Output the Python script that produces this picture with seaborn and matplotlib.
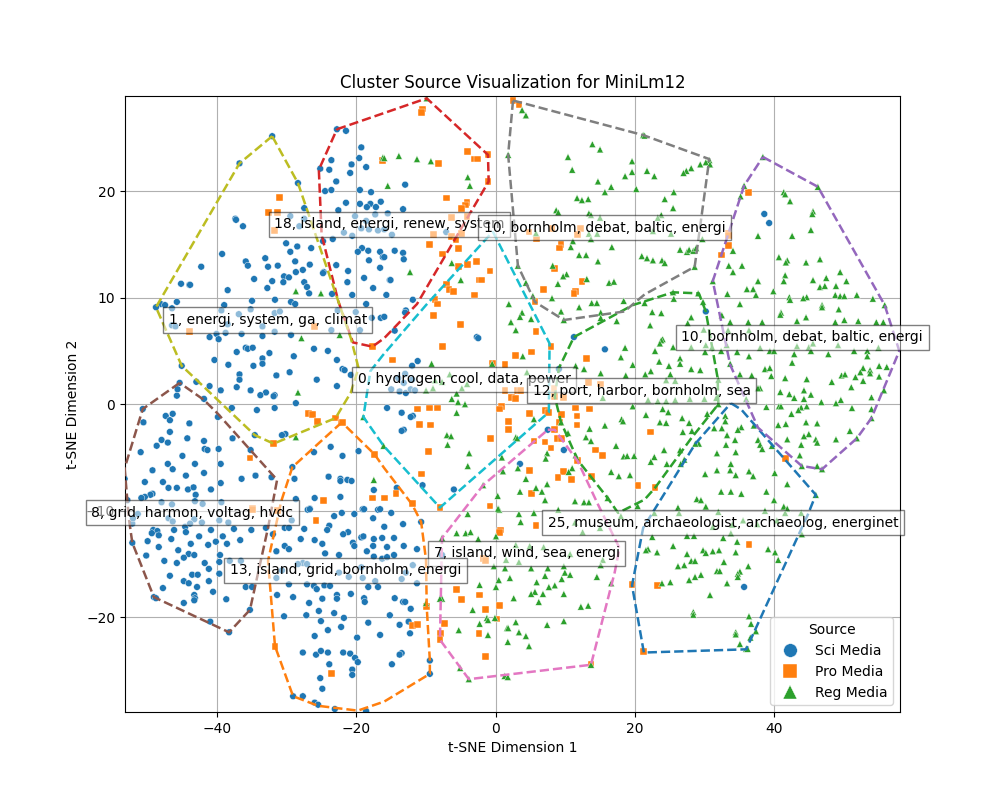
import pandas as pd
import seaborn as sns
import matplotlib.pyplot as plt

###### data (t-SNE dim 1, t-SNE dim 2) ######
sci_points = [
(-32.1,25.15),(-36.8,22.6),(-22.8,25.8),(-21.5,25.65),(-19.3,24.1),(-23.6,22.9),(-19.6,23.1),(-20.7,22.5),(-18.6,22.25),(-25.2,22.1),
(-23.9,22),(-20.9,21.7),(-22.9,20.9),(-28.4,20.75),(-24.5,20),(-23.6,20.1),(-19.5,20.1),(-17.9,19.9),(-21.5,18.9),(-19.5,18.8),
(-18,18.8),(-18.5,18.5),(-17.2,18.5),(-16.5,19),(-27.5,18.4),(-22.6,18.2),(-37.4,17.4),(-37.3,17.3),(-36.3,16.7),(-29.5,17.65),
(-28.2,16.7),(-27.5,17.4),(-20.2,17.65),(-17.3,17.8),(-21.8,16.1),(-20.6,15.8),(-19.3,16.5),(-18.2,16.4),(-16.9,16.3),(-16,16.4),
(-18.6,17.2),(-23.4,15.5),(-24.8,15.3),(-30.1,15.1),(-28.5,14.8),(-26.5,14.65),(-29.5,14.3),(-19.2,14.65),(-19.8,14.3),(-18.3,14.4),
(-16.6,14.3),(-16.2,13.8),(-39.3,14.1),(-33.1,13.7),(-35.9,13.4),(-35.6,13),(-28.8,13.4),(-18.2,13.5),(-31.3,13),(-32.7,12.9),
(-26.7,13.1),(-22.9,13.05),(-42.3,12.9),(-16.6,12.8),(-27.7,12.6),(-28.7,12.4),(-24.7,12.4),(-24.8,12.3),(-21.2,12.5),(-30.4,12),
(-29.7,11.9),(-34.7,11.75),(-32.1,11.55),(-30.5,11.45),(-27.5,11.45),(-21.3,11.45),(-18.9,11.85),(-45.2,11.3),(-44,11.2),(-43.9,11.2),
(-27.1,11),(-32.8,10.9),(-17.6,10.9),(-38.5,10.7),(-26.8,10.4),(-23.5,10.35),(-20.6,10.25),(-35,9.7),(-31.7,9.8),(-45.8,9.6),
(-29.4,9.6),(-28.8,9.4),(-18.6,9.4),(-39,9.3),(-48.1,9.4),(-47.5,9.3),(-13,20.6),(-13.3,18.3),(-15.5,17.9),(-7.1,16.15),
(-14.9,15.9),(-14.5,14.4),(-13.3,14.2),(-13.2,13.6),(-15.2,11.65),(-15.7,10.25),(-11.9,9.8),(-16,13.8),(-15.1,11.65),
(38.6,17.85),(39.3,17),(-48.8,9.1),(-46.5,9),(-36.9,8.45),(-35.2,8.9),(-31.75,8.55),(-31,8.7),(-33.5,7.3),(-46.5,7.4),
(-46,7.3),(-38.5,7.5),(-39.4,8.8),(-20.1,8.65),(-23.6,6.95),(-19.5,6.95),(-17.8,8.1),(-16.5,8.1),(-22.7,8.8),(-41.1,6.3),
(-40.1,6.6),(-39.8,6.1),(-38.8,6.7),(-36.5,6.6),(-33.5,6.4),(-31.75,6.8),(-29.4,6.5),(-26.1,5.2),(-24.1,5),(-35.9,5.3),
(-35.6,5.2),(-34.9,5.3),(-37.2,4.9),(-32.5,4.8),(-29,4.5),(-33.5,4.3),(-40.4,4.15),(-22.8,4.15),(-34.8,3.6),(-33.5,3.8),
(-38.4,3.7),(-45.1,3.6),(-22,3.3),(-21.7,3.2),(-29.6,3),(-36.8,2.8),(-31.5,2.7),(-20.8,2.75),(-36.8,2.3),(-25.7,2.3),
(-43,2.1),(-45.4,2),(-45.7,1.4),(-41.1,1.7),(-37.2,1.6),(-22.8,1.7),(-39.5,1.3),(-35.2,1.3),(-33,1.1),(-33.8,0.85),
(-31.75,0.85),(-31.9,0.75),(-45.8,0.8),(-41.9,0.5),(-28.7,0.1),(-37.9,-0.35),(-31.75,-0.35),(-34.3,-0.55),(-50.7,-0.45),(-46.4,-0.9),
(-47.4,-1.1),(-46.8,-1.5),(-39.9,-1.2),(-50.6,-1.7),(-44,-1.8),(-46.8,-2.6),(-34.6,-2.9),(-30.2,-2.8),(-30.7,-2.9),(-44.3,-3.2),
(-37.8,-3.2),(-48,-3.35),(-47.1,-3.6),(-48.7,-3.9),(-41.9,-3.45),(-41.8,-4.2),(-41.4,-4.3),(-39.8,-4.2),(-35.2,-4.3),(-51,-4.5),
(-45,-4.85),(-26.1,-4.5),(-23.7,-4),(-19.7,-4.4),(-22,-4.85),(-47.1,-5.6),(-43.2,-5.6),(-39.5,-5.6),(-29.2,-5.9),(-46.4,-6.1),
(-49.3,-6.2),(-41.9,-6.45),(-44.5,-6.7),(-34.5,-6.7),(-24,-6.8),(-32.2,-6.85),(-36.5,-7),(-28.9,-7),(-22.3,-7),(-22.3,-7.2),
(-21.3,-7.1),(-20.7,-7.2),(-50.4,-7.3),(-47.8,-7.3),(-39.5,-7.4),(-53.3,-7),(-47,-7.85),(-45.8,-7.85),(-44.2,-8),(-43.4,-7.8),
(-40.9,-8),(-17.5,-8.05),(-49.3,-8.4),(-49.6,-8.5),(-43.1,-8.5),(-50.4,-8.7),(-50.9,-8.8),(-28.7,-8.9),(-26,-8.8),(-22.3,-8.7),
(-19.1,-9.85),(-16.9,-9.9),(-26.7,-9.8),(-27,-9.9),(-48,-9.2),(-46.5,-9.4),(-43.2,-9.1),(-42.1,-9.35),(-39.4,-9.2),(-52.9,-9),
(-51.4,-10.3),(-12.9,8.8),(-13,8.6),(-14.5,6.9),(-16,8.2),(-2.7,6.3),(-2.5,6.2),(-11.2,4.05),(-12,3.6),(11.25,6.3),(15.7,5.15),
(-13,2.85),(-14,2.45),(-13.2,2),(-12,2.3),(-15,1.4),(-13.8,1.2),(-12.9,1.05),(-12.2,1.4),(-11.6,1.3),(9.1,3.3),
(-15.6,-0.35),(-13.5,-0.8),(-11.9,-1.1),(-12.2,-1.2),(-13.2,-2.4),(-13.5,-2.5),(7.5,-2.4),(9.8,-4.3),(3.5,-5.6),(-14.2,-7.85),
(-10.5,-7.6),(-6,-8),(30.2,8.7),(-52.2,-11.2),(-52.2,-13),(-49.2,-11.8),(-48.6,-11.9),(-49.4,-12.1),(-48.4,-12.3),(-46.2,-11.8),
(-44.6,-11.5),(-44.5,-12),(-50,-12.85),(-46.6,-12.65),(-42.6,-12.4),(-40.9,-11.8),(-39.2,-12.4),(-37.6,-11.7),(-35.1,-11.8),(-33,-11.6),
(-36.7,-12.75),(-40.2,-12.9),(-48.4,-13.4),(-43.8,-13.1),(-41.3,-13.2),(-38.6,-13.1),(-45.6,-13.7),(-50.2,-14.2),(-44.1,-14.05),(-43.3,-14.15),
(-44.8,-14.4),(-47.6,-14.7),(-45.8,-14.9),(-41.8,-14.9),(-39.6,-14.15),(-39.7,-14.8),(-41.2,-15.45),(-39.7,-15.9),(-46.8,-16.1),(-43.6,-16),
(-42.8,-16),(-44.8,-16.6),(-44.1,-16.8),(-41.2,-16.6),(-42.9,-17.15),(-47.8,-17.25),(-40.6,-17.6),(-43.3,-17.9),(-43.2,-18.2),(-43.3,-18.4),
(-49.1,-18.1),(-48.8,-18.2),(-44.8,-18.65),(-38.7,-18.3),(-35.3,-19.3),(-41,-20.4),(-38.3,-21.4),(-35.9,-17.15),(-35,-17.15),(-26.7,-9.85),
(-23.2,-10.5),(-22.1,-10.2),(-20.3,-10.3),(-18.9,-9.85),(-17.6,-10.7),(-16.6,-9.85),(-30.3,-11.6),(-29.7,-11.6),(-27.5,-11.7),(-23.9,-11.4),
(-24.2,-11.8),(-21.2,-12),(-21.9,-12.2),(-32,-12.2),(-19.3,-12.5),(-19,-12.4),(-17.5,-12.65),(-16.3,-12.55),(-28,-12.65),(-26,-12.75),
(-24.9,-13.1),(-20.5,-13),(-20.3,-13.3),(-17.6,-13.3),(-30.3,-13.3),(-29.7,-13.6),(-31.5,-13.8),(-18.5,-13.8),(-24.5,-14),(-22.5,-14.15),
(-17.5,-14.3),(-16.3,-14.5),(-27.7,-14.9),(-28.4,-15),(-27.1,-15),(-30.7,-15.6),(-19.3,-15.3),(-22.5,-15.8),(-21.1,-16.2),(-19.1,-16.3),
(-17.3,-16.6),(-31.5,-16.3),(-29.7,-16.9),(-27.1,-16.9),(-26.1,-17.05),(-25.7,-17.35),(-24.6,-17),(-23.8,-17.05),(-18.3,-17.15),(-16.9,-17.15),
(-31.4,-17.9),(-29.1,-18.1),(-22.8,-17.9),(-22.8,-18.25),(-20.8,-17.8),(-24.9,-18.25),(-18.9,-18.2),(-18.8,-18.55),(-26.8,-18.65),(-25.4,-19.4),
(-27.2,-19.8),(-23.2,-19.6),(-30.4,-19.9),(-21.8,-20.05),(-25.1,-20.35),(-18.3,-20.5),(-22.2,-20.9),(-24.1,-21.2),(-26,-21.75),(-16.6,-21.65),
(-19.9,-21.9),(-27.7,-23.3),(-25.8,-23.5),(-25.1,-23.15),(-24.1,-23.3),(-21.9,-23.3),(-20.9,-23.4),(-20.2,-23.8),(-19.8,-24.2),(-23.9,-24.4),
(-20.6,-24.9),(-20.6,-25.4),(-25.2,-25.7),(-24.9,-26.7),(-29.1,-27.4),(-27.7,-27.4),(-26,-28),(-25.5,-28.2),(-23.1,-28.6),(-18.6,-28.8),
(-47,-10.7),(-46.4,-11),(-43.3,-10.8),(-43.9,-11.2),(-42.2,-11.1),(-39.7,-10.9),(-38.4,-11.1),(-29.3,-10.9),(-52.1,-10.7),(-36.6,-14.7),
(-38.2,-14.7),(-15,-10.2),(-10.7,-11.05),(-13.3,-11.25),(-16,-11.5),(-14.6,-12.55),(-13.2,-13.3),(-11.3,-13.6),(-15.6,-13.4),(-14.6,-14.15),
(-15.6,-14.35),(-11.9,-15.1),(-12.9,-15.8),(-13.5,-16.4),(-11.3,-16.8),(-14.5,-18.2),(-13.3,-18.55),(-13,-18.55),(-12.2,-19.2),(-15.2,-19.8),
(-13.8,-20.7),(-12.5,-20.4),(-12.3,-21.5),(-13.5,-23.35),(-13.8,-23.5),(-14.9,-24.4),(-9.45,-24.05),(-9.45,-25.3),(-7.7,-14.15),(35.7,-17.15),
]
pro_points = [
(-31.1,19.4),(-32.6,18),(-31.3,18),(-31.8,16.3),(-16.3,22.9),(-10.5,27.7),(-10.6,27.4),(-4,23.75),(-3.1,23),(-2.55,23),
(-1.1,23.4),(-8.15,22.6),(-1.1,20.9),(-7,19.35),(-4.1,18.9),(-4.3,18.7),(-4.85,18.4),(-6.3,17.5),(-4.1,17.65),(-8.9,15.9),
(-4.85,16),(-6.3,15.7),(-5.7,15.4),(-9.45,15),(-5.3,14.6),(-7.6,14.1),(-2.7,13.4),(-4,13.1),(-5.3,12.9),(-0.8,12.5),
(-2.4,11.65),(-2,11.65),(-7,11.2),(-6.7,10.8),(-6,10.55),(-3,10.25),(-8.7,9.8),(-8.3,9.4),(2.5,28.5),(3.35,28.1),
(4.8,16.15),(5.9,15.5),(8.1,16.5),(12.25,16.5),(11.8,15.95),(9.4,15),(9.2,14.65),(8.5,12.7),(12.4,11.55),(6.9,10.8),
(11.5,10.6),(11.25,10.4),(5.65,9.6),(36.3,19.9),(33.4,16),(33.5,15.8),(33.5,14.9),(32.4,14),(-44,6.8),(-26,7.3),
(-17.7,5.4),(-26.9,-0.85),(-26.3,-1),(-25.6,-1.6),(-23,-1.3),(-22.1,-1.7),(-22,-1.75),(-31.9,-3.7),(-17.4,-4.7),(-35.3,-5.05),
(-24.7,-9),(-17.7,-8.8),(-34.9,-9.8),(-8.9,8.3),(-5,7.5),(5.8,6.85),(-7.6,5.4),(-14.8,4.15),(7.95,5.45),(5.2,4.9),
(2.8,4.6),(13,4.3),(-0.4,3.8),(1.35,3.7),(1.35,1.3),(3.1,1.3),(3.6,1.3),(2.3,0.6),(2.8,0.5),(8.5,0.7),
(9.8,0.6),(8.4,1.5),(13.4,2),(15.1,1.9),(0.9,-0.2),(0.5,-0.45),(-11.2,-0.45),(-9.45,-0.35),(-8.3,-0.35),(11.5,-0.35),
(13.5,-0.45),(4.9,-0.9),(7.1,-0.6),(7.65,-0.75),(9.5,-1),(11.7,-1.1),(1.9,-1.6),(-10.9,-1.9),(-9.3,-1.95),(11.7,-1.95),
(9.2,-1.7),(1.8,-2.4),(8.5,-2.4),(-0.7,-3.2),(8.9,-3.2),(9.5,-3.2),(5.5,-3.45),(7.1,-3.55),(7.95,-4.1),(-9.6,-4.4),
(14.4,-4.3),(15.3,-4.8),(11.8,-5.25),(4.9,-6.2),(9.8,-6.35),(13.8,-6.75),(8.95,-6.9),(10.95,-7.1),(-10.6,-6.55),(20.45,-7.6),
(-14.3,-8.4),(5.1,-8.4),(-12,-9.35),(-8,-9.7),(-0.8,-9.55),(-16,-8.8),(22.2,-2.6),(41.6,-5.1),(22.9,-7.85),(-34.9,-9.85),
(-31.3,-10),(-25.8,-10.9),(-31.7,-22.7),(-23.6,-25.3),(5.8,-11.35),(0.75,-11.8),(0.5,-12),(-1.8,-14.5),(-1.4,-14.7),(-5.6,-17.4),
(-2.3,-17.9),(-4.85,-18.3),(0.5,-18.85),(-9.9,-19),(-1.5,-19.3),(0.2,-20.15),(-7.4,-20.6),(-12,-20.8),(-11.2,-20.7),(-7.9,-21.5),
(-2.4,-21.5),(-8,-22.1),(-1.4,-23.7),(19.6,-16.95),(13.7,-24.4),(21.2,-23.2),(36.4,-13.2),(23.3,-17),
]
reg_points = [
(-28.7,10.6),(-25.1,10.4),(-16.2,23.15),(-9.9,28.7),(-13.9,23.3),(-11.3,23),(-9.3,22.8),(-16,23.1),(-4,21.3),(-3.7,20.5),
(-15.5,20.5),(-6.3,13.25),(-12.3,12.4),(-5,11.65),(1.8,23.4),(3.8,27.6),(4.35,27.1),(13.9,24.4),(15,23.9),(10.4,23.2),
(19.6,22.8),(11,22),(18.6,21.4),(19.6,21.8),(14.7,20.9),(16.6,20.4),(15.7,19.9),(20.2,20.2),(11.7,19.35),(12.4,19.15),
(13.3,19.25),(8.7,18.2),(9,18),(13.4,17.9),(13.7,17.75),(15,17.5),(5.8,16.05),(13.4,16),(14.6,16),(13.7,15.5),
(11.1,15.3),(10.8,14.75),(16.7,14.75),(12,14),(13,14),(14.7,13.4),(21,13.9),(3.2,13),(8.2,13),(10.2,12.2),
(9.7,12),(13.1,11.75),(8.95,11.3),(16.3,11.4),(17,11.5),(4.35,11.4),(5.35,10.15),(8.1,9.95),(18.4,9.7),(13.8,9.5),
(14.55,9.5),(1.9,9.4),(21.2,25.25),(21.4,25.2),(30.7,22.9),(30.2,22.7),(30.8,22.5),(29.4,22.5),(28.1,22.15),(27.4,21.9),
(27,21.7),(21.75,21.9),(22.8,21.4),(38.4,23.2),(35.7,20.5),(46.3,20.4),(25.6,19.9),(41.4,19.9),(41.6,19.7),(24.3,19.25),
(35.2,19.5),(42.3,19.05),(25.5,18.4),(45.6,18.1),(45.5,17.85),(23.8,17.75),(23.3,17.5),(22.6,16.25),(25.2,16),(45.3,16.35),
(37.7,15.8),(42.6,15.8),(29.7,15.5),(26.5,14.5),(27.5,14.3),(27.8,14.5),(28.4,14.4),(28.8,14.65),(34.1,14.4),(21.75,13.7),
(22.6,13.5),(23.9,13.5),(24.3,13.25),(40.7,13.8),(41.9,13.5),(41.7,13.3),(44.6,13.3),(46.6,13.6),(33.5,13),(35.4,13),
(28.6,12.9),(34.1,12.4),(49.5,12.4),(41.6,12.1),(47.5,11.85),(31.2,11.55),(37.7,11.55),(41.4,11.55),(45.6,11.65),(50.4,11.55),
(46.6,11),(47.3,11.1),(48.9,11.1),(36.1,10.8),(37,10.8),(39.9,10.6),(25.5,10.5),(29.1,10.4),(33.3,10.35),(37.4,10.25),
(51.9,10.25),(48.8,10.25),(49.5,10.15),(50.1,10.15),(42.2,10.05),(44.7,10.05),(44.2,9.95),(54.2,9.9),(25.6,9.9),(42.3,9.8),
(29.8,9.6),(35.1,9.4),(46.9,9.3),(55.9,9.3),(21.4,9.5),(-27.9,6.2),(-22.4,6.5),(-28.4,1.1),(-28.7,-3.1),(-19,-1.2),
(-17.5,-7.1),(-16.1,-3.9),(3.8,8.6),(3.5,8.2),(2.2,7.7),(5.1,8),(9.4,8.7),(12,9.1),(9.8,7.9),(15.1,8.6),
(15.1,8.1),(17.4,7.8),(2.9,6.95),(18.6,5.3),(3.9,4.5),(18,4.4),(-9.2,3.8),(-0.5,3.8),(11.5,3.6),(12.7,3.3),
(19.7,3.7),(15.1,2.9),(18.7,2.7),(4.5,3),(-6.6,2.8),(-7.7,2.1),(-8.7,2.25),(-4.1,1.9),(-4.85,1.5),(-9,1.5),
(-10,1.3),(-5.6,1),(-6.3,0.5),(-5.4,0.2),(-4.4,0),(15.4,0.6),(19.7,-0.2),(-5.6,-0.8),(5.5,-1.4),(18.1,-1.4),
(18.3,-1.6),(15.7,-2),(13.5,-2.3),(9.4,-1.7),(10.4,-2.7),(-7,-2.9),(-6.4,-3),(2.9,-3.1),(3.1,-3.2),(12.97,-3.1),
(13.7,-3.45),(-6.9,-3.8),(17.3,-3.9),(-3.8,-4.6),(7.4,-4.6),(18.4,-4.9),(18.9,-4.85),(19.9,-4.85),(7.2,-5.1),(0.9,-5),
(11.5,-4.8),(-4,-5.8),(3.2,-6),(11,-6),(1.05,-6.3),(10.5,-6.35),(16.6,-6.35),(17.7,-6.75),(19.3,-6.65),(4.35,-7),
(7.4,-7.5),(-1.8,-7.6),(5.8,-7.85),(3.5,-8.2),(6.65,-8.2),(7.1,-9),(12.7,-9.2),(13.4,-9.2),(16.1,-8.8),(11.4,-9.1),
(0.3,-8.6),(0.5,-9.9),(20.4,-9.55),(9,-9.9),(22.5,8.65),(23.8,8.55),(22.2,7.4),(28.1,8.15),(27.6,7.6),(32.5,8.35),
(33.7,7.7),(36.3,7.7),(38.3,7.7),(41,8.6),(40.9,8.4),(46.9,9.1),(49.3,8.9),(43.3,7.8),(44.6,8.15),(48.8,7.7),
(50.1,7.9),(52.1,7.8),(54.7,7.7),(55.7,7.7),(36.4,6.95),(33.4,6.95),(29.9,7),(24,6.1),(23.8,6),(23.6,5.7),
(22.9,5),(25.5,5.35),(28.1,5.35),(30.2,5.55),(31.1,5.35),(33.2,5.55),(38,5.3),(43.3,5.45),(45,5.35),(45.6,5.7),
(49.2,5.55),(55,5.3),(30.1,4.9),(32.4,5),(34.7,4.9),(39.4,5),(40,5),(42.9,4.7),(45.3,5),(47.8,4.7),
(51.5,5),(53.4,5),(53.4,4.5),(36.4,4.5),(26.5,4.3),(26.5,3.8),(23.5,4),(24.9,3.6),(42.6,3.9),(33.7,3.8),
(28.1,3.3),(29.4,3.2),(38.7,3.3),(39.4,3.4),(55.1,3.6),(56.2,3.5),(52.8,3.4),(52.4,3),(53.8,3.2),(53.8,2.9),
(22.3,3.1),(21.5,2.8),(25.1,2.8),(35.1,2.8),(36.8,2.7),(39.6,2.65),(49.7,2.7),(50.2,2.8),(51.7,2.55),(55.1,2.6),
(41.6,2.45),(44.7,2.35),(32,2.3),(24.5,2.25),(25.8,2.2),(48.3,2.1),(52.8,2.2),(51.1,1.6),(38,1.5),(55.8,1.3),
(44.3,1.3),(40.9,1.15),(42.2,0.95),(45.3,0.9),(54,0.65),(42.9,0.6),(44.3,0.5),(46.8,0.2),(49.6,0.4),(48.9,0.1),
(36,0.5),(21.9,0.4),(23.3,0.3),(24.5,0.3),(25.8,0.4),(27.9,0.5),(30,0.5),(31.7,0.6),(37.7,1.5),(32,0),
(40.7,-0.2),(41,-0.2),(38.9,-0.25),(43.9,-0.3),(43.5,-0.55),(44.7,-0.2),(51.2,-0.35),(54,-0.45),(24,-0.45),(24.8,-0.75),
(21.6,-1),(30.4,-0.9),(26.8,-1.3),(42.5,-0.9),(27.8,-1.75),(23.6,-1.7),(24.5,-1.75),(33,-1.1),(33,-1.6),(44.6,-1.7),
(46.2,-1.8),(54,-1.3),(41.7,-1.85),(40.6,-1.95),(37.1,-2),(31.4,-2.25),(32.5,-2.25),(35.3,-2.15),(34.8,-2.4),(50.9,-2.5),
(26.9,-2.6),(28.2,-2.5),(33.25,-2.9),(45,-2.8),(44.3,-3),(46,-3.3),(46.2,-3.6),(41.9,-3.3),(34.4,-3.35),(37.7,-3.35),
(48.9,-3.3),(51.9,-3.2),(29.2,-3.7),(28.7,-3.7),(33.1,-3.8),(38,-3.8),(38.3,-4.2),(39.7,-3.9),(43.9,-3.8),(26.5,-4.3),
(24.2,-4.3),(34.5,-4.5),(31.8,-4.6),(43.7,-4.8),(22.8,-4.95),(22.3,-5.4),(27.1,-5.2),(26.6,-5.6),(24.6,-5.6),(33.8,-5.6),
(44,-5.8),(46.2,-5.8),(46.9,-6.1),(31.8,-6.2),(33.7,-6.2),(36.4,-6.3),(30.1,-6.55),(34.5,-6.65),(37,-6.75),(40.1,-6.45),
(41.9,-7.5),(32.4,-8.2),(33.8,-8.2),(35.3,-8.4),(38.9,-8.2),(46,-8.5),(28.9,-8.9),(29.5,-9),(40,-9),(26.2,-9.7),
(30.2,-9.6),(41.4,-9.6),(41.9,-9.8),(-4,-10.3),(0.35,-9.8),(3.35,-10.3),(5.5,-10.2),(3.6,-11.05),(-5.6,-12.1),(-4.3,-12.1),
(-3.6,-12),(0.05,-12.4),(-2.5,-12.65),(-7.7,-12.55),(2.9,-13.2),(4.9,-13.3),(6.9,-13.4),(10.7,-14.05),(1.5,-14.6),(3.35,-14.8),
(15.4,-14.6),(-0.25,-15.2),(1.35,-15.4),(5.1,-15.4),(7.5,-15.4),(9.8,-15.2),(9.95,-15.8),(10.7,-16),(15.1,-15.1),(14.55,-16.2),
(2.05,-16.3),(0.45,-16.5),(7.1,-16.1),(9.5,-16.4),(5.9,-16.7),(8.5,-17),(7.65,-17.15),(16.6,-16.8),(-2.3,-16.95),(0.05,-17.15),
(5.65,-17.6),(5.1,-17.8),(6.8,-17.8),(9.8,-17.8),(2.6,-18.2),(6.2,-18.55),(-7.7,-18.25),(-8,-18.25),(-10,-18.65),(12.25,-19),
(13.3,-18.9),(-3.3,-19.3),(-1.25,-20.05),(-1.1,-20.25),(-0.1,-20.05),(2.9,-20.45),(9.8,-20.35),(-2.3,-20.6),(7.4,-20.7),(1.65,-21),
(1.8,-21),(-5.3,-21.2),(3.35,-21.4),(-1.1,-21.65),(4.35,-21.75),(1.75,-22.3),(4.8,-22.7),(-5.1,-24.75),(13.7,-24.45),(-3.85,-25.8),
(1.3,-25.5),(1.75,-25.6),(12.5,-12),(15,-11.6),(11.4,-11.1),(18,-10.5),(26.35,-10.2),(22.8,-10.2),(32,-10.1),(38.7,-10),
(41.6,-10.2),(43.9,-10.2),(35.55,-10.9),(37.6,-11.25),(31.2,-11.5),(34,-11.3),(40.4,-10.9),(22.5,-12.45),(27.5,-12.35),(28.5,-12.35),
(32.7,-12.55),(33.8,-12.1),(34.7,-12.9),(44,-12.2),(25.5,-13.3),(21.9,-13.6),(21.6,-13.7),(23.2,-13.9),(27.5,-14.05),(29.8,-13.7),
(30.2,-13.95),(31.2,-13.8),(32.1,-13.7),(34.5,-13.9),(39.15,-13.6),(40.15,-13.9),(40.6,-14.6),(28.1,-14.7),(28.65,-14.7),(27.1,-15.1),
(26.2,-15.2),(32.8,-14.8),(36.3,-15.2),(31.8,-15.65),(32.2,-15.65),(35.1,-15.7),(34.8,-15.9),(34.8,-16.2),(29.5,-16),(28.65,-16.2),
(27.8,-16.5),(25.1,-16.7),(23.9,-16.8),(33.25,-16.8),(30.8,-17.9),(28.4,-19.5),(28.4,-19.75),(36.4,-19.9),(36.7,-20.6),(37.4,-21.3),
(34.5,-21.4),(34.5,-21.6),(36.6,-21.9),(35.1,-22.5),(36,-22.95),(36.2,-22.95),
]

# cluster outlines
hull_blue = [(33.8,0.1),(35.3,-0.5),(46,-8.5),(44.9,-10.3),(36,-23),(21.3,-23.3),(19.6,-17),(21.2,-11.6),(28.7,-3.7)]
hull_orange = [(-22.1,-1.7),(-29.2,-5.9),(-30.8,-9.1),(-32.7,-14.7),(-31.7,-22.7),(-29.1,-27.4),(-25.5,-28.3),(-19.8,-28.75),(-16,-27.9),(-9.45,-25.3),(-9.45,-24.05),(-9.9,-19),(-10,-14.6),(-10.7,-11.05),(-12,-9.4),(-16,-6),(-17.4,-4.7)]
hull_green = [(11.25,6.3),(19.7,9.3),(25.5,10.5),(29.2,10.4),(30.2,8.7),(31.9,2.45),(32,0),(28.1,-3.2),(22.9,-7.85),(21.4,-8.95),(17.6,-10.2),(16.1,-8.8),(11.8,-5.25),(9.4,-1.7),(8.5,0.7),(9.1,3.4)]
hull_red = [(-22.8,25.8),(-9.9,28.7),(-1.1,23.4),(-1,20.9),(-11.3,9.4),(-16,6.2),(-17.7,5.4),(-20.5,5.8),(-22.6,9.65),(-25,15.9),(-25.4,22)]
hull_purple = [(38.4,23.2),(46.3,20.4),(55.9,9.3),(58,5),(54,-1.3),(51.9,-3.2),(46.9,-6.1),(44,-5.8),(37.7,-2.2),(33.7,3.7),(31.2,11.55),(35.2,19.5),(35.7,20.5)]
hull_brown = [(-45.4,2),(-50.7,-0.45),(-53.3,-6),(-52.7,-10.7),(-52.2,-13),(-49.1,-18.1),(-38.3,-21.4),(-35.3,-19.3),(-32.7,-11.6),(-31.4,-7.1),(-39.9,-0.9),(-41.9,0.4)]
hull_pink = [(7.5,-2.4),(8.5,-2.4),(11.8,-5.35),(14.7,-9.4),(17.8,-13.5),(17.1,-15.8),(13.7,-24.45),(-3.85,-25.8),(-8,-22.1),(-7.7,-12.55),(-1.8,-7.6)]
hull_gray = [(2.5,28.5),(21.2,25.25),(30.7,23),(28.6,12.9),(21.4,10.3),(18.5,8.7),(9.8,7.9),(5.65,9.6),(3.2,13),(1.8,23.4)]
hull_olive = [(-32.1,25.15),(-36.8,22.6),(-48.8,9.1),(-45.1,3.6),(-34.6,-2.9),(-31.9,-3.7),(-23,-1.3),(-20.8,1.1),(-19.7,3.4),(-20.8,6.2),(-22.6,9.65),(-28.4,20.75)]
hull_cyan = [(-0.4,16.2),(7.75,5.7),(7.65,-0.75),(-8,-9.7),(-16.1,-3.9),(-19,-1.2),(-18,3.1),(-16.2,4.6),(-10,9.3)]
hulls = [hull_blue,hull_orange,hull_green,hull_red,hull_purple,hull_brown,hull_pink,hull_gray,hull_olive,hull_cyan]

label_text = ["18, island, energi, renew, system","10, bornholm, debat, baltic, energi","1, energi, system, ga, climat",
              "10, bornholm, debat, baltic, energi","0, hydrogen, cool, data, power","12, port, harbor, bornholm, sea",
              "8, grid, harmon, voltag, hvdc","25, museum, archaeologist, archaeolog, energinet","7, island, wind, sea, energi",
              "13, island, grid, bornholm, energi"]
label_x = [-31.8,-1.7,-47,26.7,-19.8,5.3,-58.1,7.5,-8.9,-38.2]
label_y = [16.9,16.55,7.9,6.3,2.35,1.25,-10.2,-11.1,-14.0,-15.6]

######build the frame#############
source_names = ["Sci Media","Pro Media","Reg Media"]
rows = []
for name, pts in zip(source_names, [sci_points, pro_points, reg_points]):
    rows += [(x, y, name) for x, y in pts]
df = pd.DataFrame(rows, columns=["x", "y", "Source"])

fig, ax = plt.subplots(figsize=(10, 8))
sns.scatterplot(data=df, x="x", y="y", hue="Source", style="Source",
                markers={"Sci Media": "o", "Pro Media": "s", "Reg Media": "^"},
                hue_order=source_names, s=24, linewidth=0.3, ax=ax, zorder=2)

# dashed outline per cluster, closed
for i, hull in enumerate(hulls):
    hx = [p[0] for p in hull] + [hull[0][0]]
    hy = [p[1] for p in hull] + [hull[0][1]]
    sns.lineplot(x=hx, y=hy, sort=False, estimator=None, color=f"C{i}", linestyle="--", linewidth=1.8, ax=ax, zorder=3)

for txt, x, y in zip(label_text, label_x, label_y):
    ax.text(x, y, txt, fontsize=10, va="center", ha="left", zorder=5,
            bbox=dict(facecolor="white", alpha=0.5))

ax.set_xlim(-53.25, 58.1)
ax.set_ylim(-28.88, 28.92)
ax.grid(True)
ax.set_axisbelow(True)
ax.set_title("Cluster Source Visualization for MiniLm12")
ax.set_xlabel("t-SNE Dimension 1")
ax.set_ylabel("t-SNE Dimension 2")
ax.legend(title="Source", loc="lower right", markerscale=2.0)

plt.savefig("out.png", dpi=100)
